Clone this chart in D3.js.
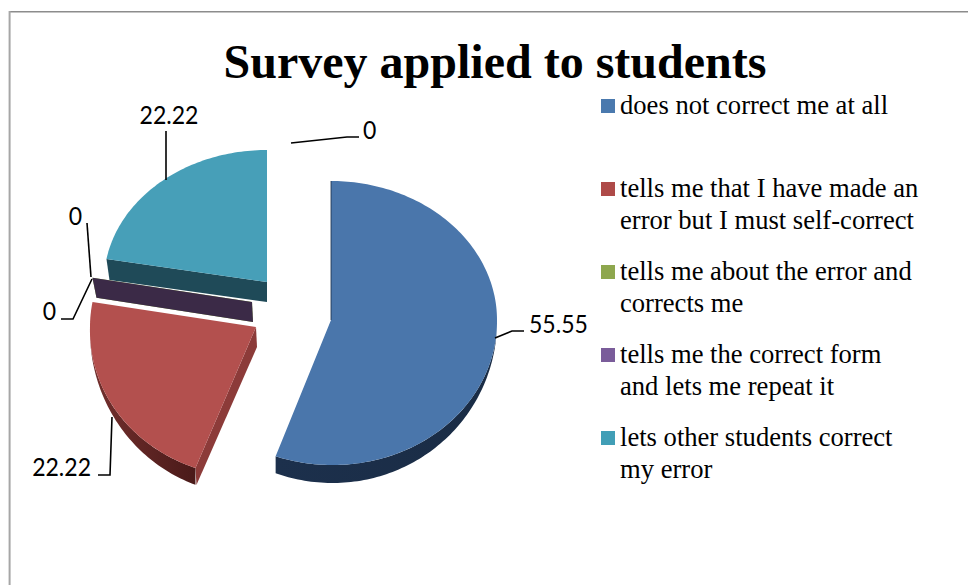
<!DOCTYPE html>
<html>
<head>
<meta charset="utf-8">
<script src="https://cdn.jsdelivr.net/npm/d3@7/dist/d3.min.js"></script>
<style>
  html, body { margin: 0; padding: 0; background: #fff; }
  svg { display: block; }
</style>
</head>
<body>
<svg id="chart" width="968" height="585"></svg>
<script>
// Survey answers, as percentages
const categories = [
  "does not correct me at all",
  "tells me that I have made an error but I must self-correct",
  "tells me about the error and corrects me",
  "tells me the correct form and lets me repeat it",
  "lets other students correct my error"
];
const values = [55.55, 22.22, 0, 0, 22.22];
const valueLabels = ["55.55", "22.22", "0", "0", "22.22"];
const titleText = "Survey applied to students";

const legendLines = [
  ["does not correct me at all"],
  ["tells me that I have made an", "error but I must self-correct"],
  ["tells me about the error and", "corrects me"],
  ["tells me the correct form", "and lets me repeat it"],
  ["lets other students correct", "my error"]
];

// Face, side-wall and legend colours per slice
const faceColors = ["#4a76ab", "#b3504e", "#8aa64c", "#3b2a47", "#479fb8"];
const wallColors = ["#1a2d47", "#8c3b39", "#4c5c2a", "#3b2a47", "#1f4a58"];
const rimStart   = ["#1c304c", "#74302e", "#4c5c2a", "#3b2a47", "#1f4a58"];
const rimEnd     = ["#1a2c45", "#4a1a19", "#4c5c2a", "#3b2a47", "#1f4a58"];
const legendColors = ["#4a79ae", "#ae4a48", "#8ea74e", "#7a5c9a", "#419eb6"];

// Exploded slice geometry: apex, radii (upper and lower half of the ellipse),
// extrusion depth, and a sideways lean of the lower rim from the perspective
const sliceGeometry = [
  { cx: 331, cy: 320, rx: 166, ryTop: 139, ryBottom: 145, depth: 18, lean: 1.5 },
  { cx: 256, cy: 327, rx: 166, ryTop: 144, ryBottom: 150, depth: 18, lean: -4 },
  { cx: 252, cy: 302, rx: 162, ryTop: 139, ryBottom: 145, depth: 20, lean: 0 },
  { cx: 252, cy: 302, rx: 162, ryTop: 139, ryBottom: 145, depth: 20, lean: 0 },
  { cx: 267, cy: 282, rx: 163, ryTop: 132, ryBottom: 138, depth: 20, lean: 0 }
];

// Leader lines and their data labels
const leaders = [
  { slice: 0, points: [[495, 338], [512, 331], [524, 331]], x: 529, y: 332.5, anchor: "start" },
  { slice: 1, points: [[112, 417], [110, 475], [98, 475]], x: 91, y: 476, anchor: "end" },
  { slice: 2, points: [[92, 279], [73, 319], [61, 319]], x: 56, y: 319.5, anchor: "end" },
  { slice: 3, points: [[91, 277], [87, 223]], x: 82, y: 224.5, anchor: "end" },
  { slice: 4, points: [[166, 180], [166, 131]], x: 169, y: 124, anchor: "middle" }
];
const strayLeader = { points: [[291, 143], [347, 137], [359, 137]], label: "0", x: 363, y: 138.5 };

const svg = d3.select("#chart");
const defs = svg.append("defs");

// Frame: only the top and left rules fall inside the window
svg.append("path").attr("d", "M968,11.8H9.6").attr("stroke", "#8c8c8c").attr("stroke-width", 1.6).attr("fill", "none");
svg.append("path").attr("d", "M9.6,11V585").attr("stroke", "#a6a6a6").attr("stroke-width", 2).attr("fill", "none");

svg.append("text")
  .attr("x", 495).attr("y", 78)
  .attr("text-anchor", "middle")
  .attr("font-family", "'Liberation Serif', serif")
  .attr("font-weight", "bold")
  .attr("font-size", 48)
  .attr("fill", "#000")
  .text(titleText);

const pie = d3.pie().sort(null).value(d => d).startAngle(0).endAngle(2 * Math.PI);
const arcs = pie(values);

// A point on a slice's tilted rim; angle 0 is straight up, running clockwise
function rimPoint(g, a) {
  const c = Math.cos(a);
  return [
    g.cx + g.rx * Math.sin(a) + g.lean * Math.max(0, -c),
    g.cy - (c > 0 ? g.ryTop : g.ryBottom) * c
  ];
}
function rimSamples(g, a0, a1) {
  const n = Math.max(2, Math.ceil(Math.abs(a1 - a0) / 0.02));
  return d3.range(n + 1).map(i => a0 + (a1 - a0) * i / n);
}
const line = d3.line();

// Painted back to front so nearer slices overlap the farther ones
const paintOrder = [4, 2, 3, 1, 0];
paintOrder.forEach(i => {
  const g = sliceGeometry[i];
  const { startAngle: a0, endAngle: a1 } = arcs[i];
  const layer = svg.append("g");

  if (a1 - a0 < 1e-6) {
    // An empty slice reads only as a thin radial wall
    const p = rimPoint(g, a0);
    layer.append("path")
      .attr("d", line([[g.cx, g.cy], p, [p[0] + 4, p[1] + g.depth], [g.cx + 1, g.cy + g.depth]]) + "Z")
      .attr("fill", faceColors[i]);
    return;
  }

  // Radial walls: the teal and red slices both show their opening edge
  if (i === 4) {
    const p = rimPoint(g, a0);
    layer.append("path")
      .attr("d", line([[g.cx, g.cy], p, [p[0] + 3, p[1] + g.depth + 1], [g.cx, g.cy + g.depth]]) + "Z")
      .attr("fill", wallColors[i]);
  } else if (i === 1) {
    const p = rimPoint(g, a0);
    layer.append("path")
      .attr("d", line([[g.cx, g.cy], p, [p[0] + 1, p[1] + g.depth - 1], [g.cx + 1, g.cy + g.depth + 2]]) + "Z")
      .attr("fill", wallColors[i]);
  }

  // Outer rim wall, fading out toward the sides of the ellipse
  const from = Math.max(a0, Math.PI / 2);
  const to = Math.min(a1, 3 * Math.PI / 2);
  if (to > from) {
    const angles = rimSamples(g, from, to);
    const top = angles.map(a => rimPoint(g, a));
    const bottom = angles.map(a => {
      const [x, y] = rimPoint(g, a);
      return [x, y + g.depth * Math.max(0, -Math.cos(a))];
    }).reverse();
    const gradId = "rim" + i;
    const lg = defs.append("linearGradient").attr("id", gradId)
      .attr("x1", 0).attr("x2", 1).attr("y1", 0).attr("y2", 0);
    lg.append("stop").attr("offset", 0).attr("stop-color", rimStart[i]);
    lg.append("stop").attr("offset", 1).attr("stop-color", rimEnd[i]);
    layer.append("path").attr("d", line(top.concat(bottom)) + "Z").attr("fill", `url(#${gradId})`);
  }

  // Top face
  const face = [[g.cx, g.cy]].concat(rimSamples(g, a0, a1).map(a => rimPoint(g, a)));
  layer.append("path").attr("d", line(face) + "Z").attr("fill", faceColors[i]);

  // Dark seam along the blue slice's opening edge
  if (i === 0) {
    layer.append("path")
      .attr("d", line([[g.cx, g.cy], rimPoint(g, a0)]))
      .attr("stroke", "#1a2d47").attr("stroke-width", 0.8).attr("fill", "none");
  }
});

// Leaders and value labels; the digits are narrowed a little to the chart's tight numeral width
const labelFont = "Lato, 'Open Sans', sans-serif";
const labelNarrowing = 0.94;
function addLeader(points, label, x, y, anchor) {
  svg.append("path").attr("d", line(points)).attr("fill", "none").attr("stroke", "#000").attr("stroke-width", 1.6);
  svg.append("text")
    .attr("transform", `translate(${x},${y}) scale(${labelNarrowing},1)`)
    .attr("text-anchor", anchor)
    .attr("font-family", labelFont).attr("font-size", 24.5).attr("fill", "#000").text(label);
}
leaders.forEach(l => addLeader(l.points, valueLabels[l.slice], l.x, l.y, l.anchor));
addLeader(strayLeader.points, strayLeader.label, strayLeader.x, strayLeader.y, "start");

// Legend
const legendRowY = [113, 196, 279, 362, 445];
const legend = svg.append("g").attr("font-family", "'Liberation Serif', serif").attr("font-size", 26.6).attr("fill", "#000");
categories.forEach((cat, i) => {
  legend.append("rect")
    .attr("x", 601).attr("y", legendRowY[i] - 14).attr("width", 14).attr("height", 14)
    .attr("fill", legendColors[i]);
  legendLines[i].forEach((ln, j) => {
    legend.append("text").attr("x", 620).attr("y", legendRowY[i] + 1 + j * 31.5).text(ln);
  });
});
</script>
</body>
</html>
